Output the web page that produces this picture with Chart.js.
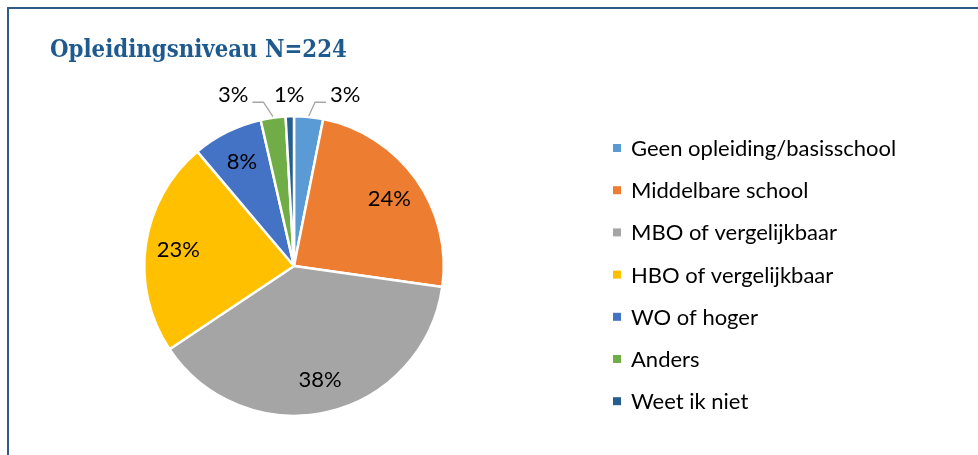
<!DOCTYPE html>
<html>
<head>
<meta charset="utf-8">
<script src="https://cdn.jsdelivr.net/npm/chart.js@4/dist/chart.umd.min.js"></script>
<style>
  html, body { margin: 0; padding: 0; background: #ffffff; }
  #wrap { position: relative; width: 978px; height: 455px; }
  canvas { display: block; }
</style>
</head>
<body>
<div id="wrap"><canvas id="c" width="978" height="455"></canvas></div>
<script>
// ---- data ----
const titleText = 'Opleidingsniveau N=224';
const categories = [
  'Geen opleiding/basisschool',
  'Middelbare school',
  'MBO of vergelijkbaar',
  'HBO of vergelijkbaar',
  'WO of hoger',
  'Anders',
  'Weet ik niet'
];
const counts = [7, 54, 86, 52, 17, 6, 2];
const sliceColors = ['#5B9BD5', '#ED7D31', '#A5A5A5', '#FFC000', '#4472C4', '#70AD47', '#255E91'];

// ---- styling ----
const TEXT_FONT = 'Lato, "Open Sans", sans-serif';
const TITLE_FONT = '"DejaVu Serif Condensed", "Liberation Serif", serif';
const LABEL_SIZE = 22;
const LEGEND_SIZE = 22;

const total = counts.reduce((a, b) => a + b, 0);
const pctText = v => Math.round(v / total * 100) + '%';

const framePlugin = {
  id: 'frame',
  beforeDraw(chart) {
    const ctx = chart.ctx;
    ctx.save();
    ctx.strokeStyle = '#2E5C8A';
    ctx.lineWidth = 2;
    ctx.beginPath();
    ctx.moveTo(8, 460);
    ctx.lineTo(8, 8);
    ctx.lineTo(990, 8);
    ctx.stroke();
    // title, sized to the reference width
    ctx.fillStyle = '#1F5A8E';
    ctx.font = 'bold 24px ' + TITLE_FONT;
    const w24 = ctx.measureText(titleText).width;
    const size = 24 * 297 / w24;
    ctx.font = 'bold ' + size.toFixed(2) + 'px ' + TITLE_FONT;
    ctx.textAlign = 'left';
    ctx.textBaseline = 'alphabetic';
    ctx.fillText(titleText, 50, 57);
    ctx.restore();
  }
};

const labelPlugin = {
  id: 'sliceLabels',
  afterDatasetsDraw(chart) {
    const ctx = chart.ctx;
    const meta = chart.getDatasetMeta(0);
    const ds = chart.data.datasets[0];
    ctx.save();
    ctx.font = LABEL_SIZE + 'px ' + TEXT_FONT;
    ctx.fillStyle = '#000000';
    ctx.textAlign = 'center';
    ctx.textBaseline = 'middle';
    const outside = [];
    meta.data.forEach((arc, i) => {
      const p = arc.getProps(['x', 'y', 'startAngle', 'endAngle', 'outerRadius']);
      const mid = (p.startAngle + p.endAngle) / 2;
      const frac = ds.data[i] / total;
      const txt = pctText(ds.data[i]);
      if (frac > 0.05) {
        const r = p.outerRadius * 0.78;
        ctx.fillText(txt, p.x + Math.cos(mid) * r, p.y + Math.sin(mid) * r);
      } else {
        outside.push({
          txt,
          mid,
          cx: p.x, cy: p.y, R: p.outerRadius,
          nx: p.x + Math.cos(mid) * (p.outerRadius + 20),
          ax: p.x + Math.cos(mid) * (p.outerRadius + 1),
          ay: p.y + Math.sin(mid) * (p.outerRadius + 1)
        });
      }
    });
    // spread outside labels horizontally around the one nearest the top
    outside.sort((a, b) => a.nx - b.nx);
    const gap = 56;
    let pivot = 0, best = Infinity;
    outside.forEach((o, k) => {
      const d = Math.abs(o.nx - o.cx);
      if (d < best) { best = d; pivot = k; }
    });
    outside.forEach(o => { o.x = o.nx; });
    for (let k = pivot + 1; k < outside.length; k++) {
      outside[k].x = Math.max(outside[k].nx, outside[k - 1].x + gap);
    }
    for (let k = pivot - 1; k >= 0; k--) {
      outside[k].x = Math.min(outside[k].nx, outside[k + 1].x - gap);
    }
    outside.forEach(o => {
      const ly = o.cy - o.R - 21;
      ctx.fillStyle = '#000000';
      ctx.fillText(o.txt, o.x, ly);
      const w = ctx.measureText(o.txt).width;
      if (Math.abs(o.x - o.ax) > 15) {
        const side = o.x < o.ax ? 1 : -1;
        const sx = o.x + side * (w / 2 + 4);
        const hy = ly + 7;
        ctx.strokeStyle = '#A6A6A6';
        ctx.lineWidth = 1.3;
        ctx.beginPath();
        ctx.moveTo(sx, hy);
        ctx.lineTo(sx + side * 11, hy);
        ctx.lineTo(o.ax, o.ay);
        ctx.stroke();
      }
    });
    ctx.restore();
  }
};

const legendPlugin = {
  id: 'sideLegend',
  afterDraw(chart) {
    const ctx = chart.ctx;
    const ds = chart.data.datasets[0];
    ctx.save();
    ctx.font = LEGEND_SIZE + 'px ' + TEXT_FONT;
    ctx.textAlign = 'left';
    ctx.textBaseline = 'middle';
    chart.data.labels.forEach((lab, i) => {
      const y = 148 + i * 42.2;
      ctx.fillStyle = ds.backgroundColor[i];
      ctx.fillRect(613, y - 4, 8, 8);
      ctx.fillStyle = '#000000';
      ctx.fillText(lab, 631, y + 1);
    });
    ctx.restore();
  }
};

new Chart(document.getElementById('c'), {
  type: 'pie',
  data: {
    labels: categories,
    datasets: [{
      data: counts,
      backgroundColor: sliceColors,
      borderColor: '#ffffff',
      borderWidth: 2.5
    }]
  },
  options: {
    responsive: false,
    animation: false,
    devicePixelRatio: 1,
    layout: { padding: { left: 143, right: 533, top: 115, bottom: 38 } },
    plugins: {
      legend: { display: false },
      tooltip: { enabled: false },
      title: { display: false }
    }
  },
  plugins: [framePlugin, labelPlugin, legendPlugin]
});
</script>
</body>
</html>
